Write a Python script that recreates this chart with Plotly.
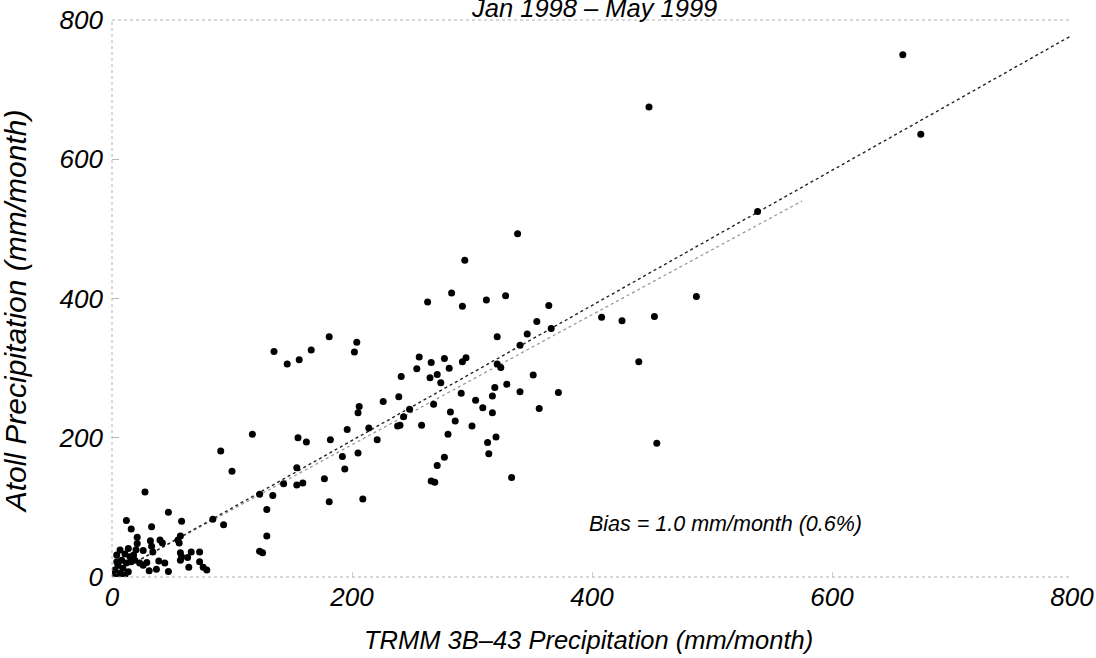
import plotly.graph_objects as go

# TRMM 3B-43 (x) vs Atoll (y) monthly precipitation, mm/month
trmm = [659, 447.5, 674, 538, 338, 294, 283, 263, 292, 312, 328, 487, 364, 408, 425, 452,
        354, 366, 346, 340, 321, 181, 204, 202, 135, 146, 156, 166, 256, 266, 277, 292,
        295, 439, 254, 281, 241, 265, 271, 274, 321, 324, 351, 329, 340, 372, 356, 291,
        319, 317, 303, 309, 317, 282, 286, 300, 268, 258, 248, 243, 239, 238, 240, 226,
        206, 205, 214, 221, 196, 182, 155, 162, 192, 205, 117, 154, 194, 280, 320, 313,
        314, 277, 271, 454, 333, 266, 269, 177, 181, 209, 90.6, 100, 143, 154, 159, 123,
        134, 129, 129, 123, 125.5, 27.5, 47, 12, 16, 33, 58, 84, 93,
        21, 21, 32, 40, 42, 55, 56, 57, 20, 26, 33, 34, 57, 58, 57, 66, 73, 63, 64, 73,
        76, 79, 39, 44, 47, 37, 31, 23, 26, 29,
        6.7, 3.9, 10.8, 15, 8, 5, 12, 16, 9, 2.5, 6.7, 13.6, 1, 5, 18, 19, 10.8, 4, 13.6, 0.5]
atoll = [750, 675, 636, 525, 493, 455, 408, 395, 389, 398, 404, 403, 390, 373, 368, 374,
         367, 357, 349, 333, 345, 345, 337, 323, 324, 306, 312, 326, 316, 308, 314, 309,
         315, 309, 299, 300, 288, 286, 291, 279, 306, 301, 290, 277, 266, 265, 242, 264,
         272, 260, 254, 243, 236, 237, 224, 217, 248, 218, 241, 230, 259, 217, 218, 252,
         245, 236, 214, 197, 212, 197, 200, 194, 173, 178, 205, 157, 155, 205, 201, 193,
         177, 172, 160, 192, 143, 138, 136, 141, 108, 112, 181, 152, 134, 132, 135, 119,
         117, 97, 59, 37, 35, 122, 93, 81, 69, 72, 80, 83, 75,
         57, 48, 52, 53, 49, 53, 49, 59, 39, 38, 44, 36, 35, 29, 24, 36, 36, 28, 14, 22,
         14, 10, 23, 20, 8, 11, 9, 20, 17, 21,
         38.8, 31.6, 33, 29, 24, 17, 20, 22, 12.5, 10, 5, 7.6, 1, 0, 31.6, 24, 3, 22, 41, 7.6]

# two fitted lines
line_a_x = [20, 800]
line_a_y = [21.5, 778]
line_b_x = [20, 575]
line_b_y = [22, 540]

axis_ticks = [0, 200, 400, 600, 800]
title_text = "Jan 1998 \u2013 May 1999"
x_title = "TRMM 3B\u201343 Precipitation (mm/month)"
y_title = "Atoll Precipitation (mm/month)"
bias_text = "Bias = 1.0 mm/month (0.6%)"

FONT = "Liberation Sans, Arial, sans-serif"

fig = go.Figure()
fig.add_trace(go.Scatter(x=line_b_x, y=line_b_y, mode="lines",
                         line=dict(color="#9a9a9a", width=1.3, dash="dot"),
                         hoverinfo="skip", showlegend=False))
fig.add_trace(go.Scatter(x=line_a_x, y=line_a_y, mode="lines",
                         line=dict(color="#222222", width=1.4, dash="3px,3px"),
                         hoverinfo="skip", showlegend=False))
fig.add_trace(go.Scatter(x=trmm, y=atoll, mode="markers",
                         marker=dict(color="black", size=7, line=dict(width=0)),
                         showlegend=False))

frame = dict(color="#b0b0b0", width=1, dash="dot")
fig.add_shape(type="line", xref="paper", yref="paper", x0=0, x1=1, y0=1, y1=1, line=frame)
fig.add_shape(type="line", xref="paper", yref="paper", x0=0, x1=1, y0=0, y1=0, line=frame)
fig.add_shape(type="line", xref="paper", yref="paper", x0=0, x1=0, y0=0, y1=1, line=frame)

tickfont = dict(family=FONT, size=26, color="black", style="italic")
fig.update_xaxes(range=[0, 800], tickvals=axis_ticks, showgrid=False, zeroline=False,
                 showline=False, ticks="inside", ticklen=5, tickcolor="#cccccc",
                 tickfont=tickfont, ticklabelstandoff=2, automargin=False)
fig.update_yaxes(range=[0, 800], tickvals=axis_ticks, showgrid=False, zeroline=False,
                 showline=False, ticks="inside", ticklen=7, tickcolor="#bbbbbb",
                 tickfont=tickfont, ticklabelstandoff=8, automargin=False)

fig.add_annotation(text=bias_text, x=511, y=76, xref="x", yref="y", showarrow=False,
                   font=dict(family=FONT, size=21.5, color="black", style="italic"))
fig.add_annotation(text=x_title, x=0.496, y=-0.113, xref="paper", yref="paper",
                   showarrow=False, yanchor="middle",
                   font=dict(family=FONT, size=25.5, color="black", style="italic"))
fig.add_annotation(text=y_title, x=-0.101, y=0.477, xref="paper", yref="paper",
                   showarrow=False, textangle=-90, xanchor="center",
                   font=dict(family=FONT, size=30, color="black", style="italic"))
fig.add_annotation(text=title_text, x=0.502, y=1.0, xref="paper", yref="paper",
                   yshift=-4, yanchor="bottom", showarrow=False,
                   font=dict(family=FONT, size=25.5, color="black", style="italic"))

fig.update_layout(width=1096, height=658, plot_bgcolor="white", paper_bgcolor="white",
                  margin=dict(l=112, r=24, t=20, b=81, autoexpand=False), showlegend=False)

fig.write_html("out.html", config={"displayModeBar": False},
               post_script="document.body.style.margin='0';")
